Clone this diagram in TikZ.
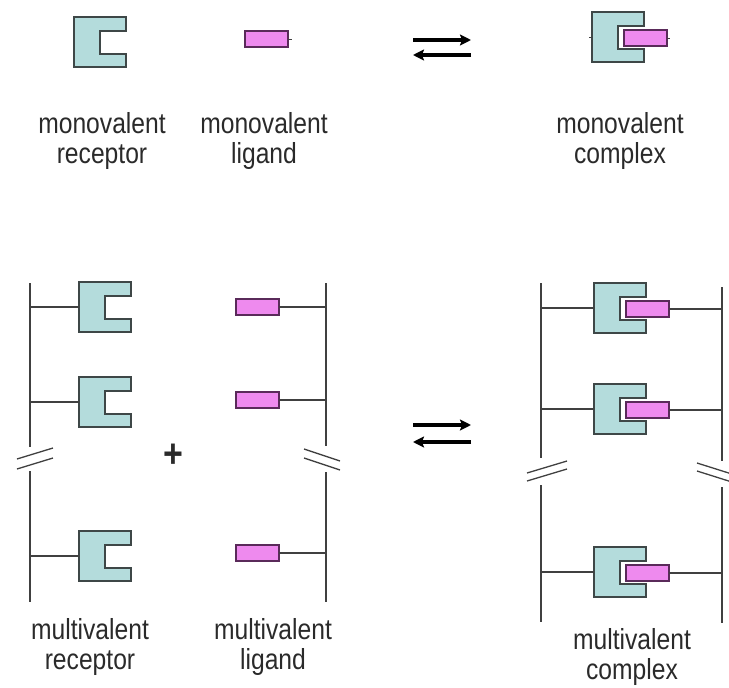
\documentclass[tikz,border=0pt]{standalone}
\usepackage{fontspec}
\setmainfont[FakeStretch=0.85]{Liberation Sans}
\usetikzlibrary{arrows.meta}

\definecolor{recfill}{HTML}{B4DCDC}
\definecolor{recline}{HTML}{3E4747}
\definecolor{ligfill}{HTML}{EE8AEE}
\definecolor{ligline}{HTML}{5A2A5A}
\definecolor{chainline}{HTML}{404040}
\definecolor{txtcol}{HTML}{2A2A2A}

\tikzset{
	recshape/.style={draw=recline, fill=recfill, line width=1.8pt},
	ligshape/.style={draw=ligline, fill=ligfill, line width=1.8pt},
	chain/.style={draw=chainline, line width=1.8pt},
	cutmark/.style={draw=chainline, line width=1.3pt},
	eqarrow/.style={line width=3.6pt, -{Stealth[length=11pt,width=11pt,inset=2pt]}},
	txt/.style={font=\fontsize{29}{30}\selectfont, text=txtcol, align=center, inner sep=0pt},
	receptor/.pic={
		\path[recshape] (0,0) -- (52,0) -- (52,14) -- (26,14) -- (26,37) -- (52,37) -- (52,50) -- (0,50) -- cycle;
		\coordinate (-w) at (0,25);
	},
	ligand/.pic={
		\path[ligshape] (0,0) rectangle (43,16);
		\coordinate (-w) at (0,8);
		\coordinate (-e) at (43,8);
	}
}

\begin{document}
\begin{tikzpicture}[x=1pt,y=-1pt]
		\useasboundingbox (0,0) rectangle (729,688);
		
		% Monovalent: receptor, ligand, complex
		\pic (mrec) at (74,17) {receptor};
		\pic (mlig) at (245,31) {ligand};
		\draw[chain, line width=1pt] (mlig-e) -- ++(4,0);
		
		\pic (mcrec) at (592,12) {receptor};
		\pic (mclig) at (624,30) {ligand};
		\draw[chain, line width=1pt] (mcrec-w) -- ++(-3,0);
		\draw[chain, line width=1pt] (mclig-e) -- ++(3,0);
		
		% Equilibrium arrows
		\coordinate (mA) at (413,40);
		\coordinate (mB) at (471,40);
		\coordinate (mC) at (471,55);
		\coordinate (mD) at (413,55);
		\draw[eqarrow] (mA) -- (mB);
		\draw[eqarrow] (mC) -- (mD);
		
		\node[txt] (mrectxt) at (102,141) {monovalent\\receptor};
		\node[txt] (mligtxt) at (264,141) {monovalent\\ligand};
		\node[txt] (mcomtxt) at (620,141) {monovalent\\complex};
		
		% Multivalent receptor
		\coordinate (ra) at (30,283);
		\coordinate (rb) at (30,447);
		\coordinate (rc) at (30,471);
		\coordinate (rd) at (30,602);
		\draw[chain] (ra) -- (rb);
		\draw[chain] (rc) -- (rd);
		\draw[cutmark] (17,459) -- (53,448);
		\draw[cutmark] (17,469) -- (53,458);
		\foreach \n/\y in {1/282,2/377,3/531} {
			\pic (r\n) at (79,\y) {receptor};
			\draw[chain] (r\n-w -| ra) -- (r\n-w);
		}
		
		\node[font=\bfseries\fontsize{40}{40}\selectfont, text=txtcol, inner sep=0pt] (plus) at (173,456) {+};
		
		% Multivalent ligand
		\coordinate (la) at (326,283);
		\coordinate (lb) at (326,446);
		\coordinate (lc) at (326,472);
		\coordinate (ld) at (326,602);
		\draw[chain] (la) -- (lb);
		\draw[chain] (lc) -- (ld);
		\draw[cutmark] (304,449) -- (340,461);
		\draw[cutmark] (304,458) -- (340,470);
		\foreach \n/\y in {1/299,2/392,3/545} {
			\pic (l\n) at (236,\y) {ligand};
			\draw[chain] (l\n-e) -- (l\n-e -| la);
		}
		
		% Equilibrium arrows
		\coordinate (bA) at (413,425);
		\coordinate (bB) at (471,425);
		\coordinate (bC) at (471,442);
		\coordinate (bD) at (413,442);
		\draw[eqarrow] (bA) -- (bB);
		\draw[eqarrow] (bC) -- (bD);
		
		% Multivalent complex
		\coordinate (ca) at (541,283);
		\coordinate (cb) at (541,458);
		\coordinate (cc) at (541,485);
		\coordinate (cd) at (541,622);
		\coordinate (ce) at (722,287);
		\coordinate (cf) at (722,461);
		\coordinate (cg) at (722,487);
		\coordinate (ch) at (722,623);
		\draw[chain] (ca) -- (cb);
		\draw[chain] (cc) -- (cd);
		\draw[chain] (ce) -- (cf);
		\draw[chain] (cg) -- (ch);
		\draw[cutmark] (527,473) -- (567,461);
		\draw[cutmark] (527,481) -- (567,469);
		\draw[cutmark] (697,463) -- (735,475);
		\draw[cutmark] (697,471) -- (735,483);
		\foreach \n/\y in {1/283,2/384,3/547} {
			\pic (c\n) at (594,\y) {receptor};
			\pic (k\n) at (626,\y+18) {ligand};
			\draw[chain] (c\n-w -| ca) -- (c\n-w);
			\draw[chain] (k\n-e) -- (k\n-e -| ce);
		}
		
		\node[txt] (rectxt) at (90,647) {multivalent\\receptor};
		\node[txt] (ligtxt) at (273,647) {multivalent\\ligand};
		\node[txt] (comtxt) at (632,657) {multivalent\\complex};
		
	\end{tikzpicture}
\end{document}
